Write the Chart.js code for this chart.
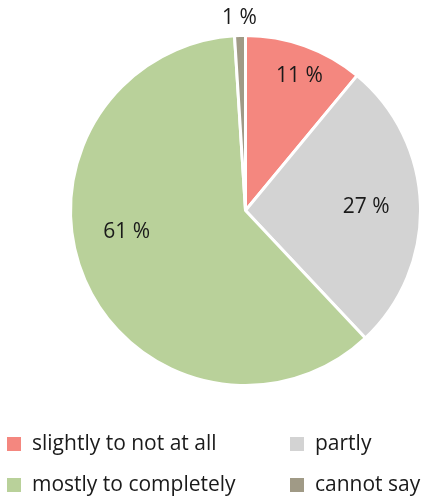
<!DOCTYPE html>
<html>
<head>
<meta charset="utf-8">
<script src="https://cdn.jsdelivr.net/npm/chart.js@4"></script>
<style>
  html, body { margin: 0; padding: 0; background: #fff; }
  #wrap { width: 422px; height: 496px; }
</style>
</head>
<body>
<div id="wrap"><canvas id="pieChart" width="422" height="496"></canvas></div>
<script>
// data
const categories = ['slightly to not at all', 'partly', 'mostly to completely', 'cannot say']
const shares = [11, 27, 61, 1]
const colours = ['#F4877F', '#D3D3D3', '#B9D19A', '#A09A86']

// where each percent label sits: fraction of the radius and small angle nudge (deg)
const labelRadius = [0.83, 0.69, 0.69, 1.1]
const labelNudge = [2, 0, 13, 0]

const FONT = '21px "Open Sans", Lato, sans-serif'

// percent labels on / next to the slices
const sliceLabels = {
    id: 'sliceLabels',
    afterDatasetsDraw(chart) {
        const ctx = chart.ctx
        const meta = chart.getDatasetMeta(0)
        ctx.save()
        ctx.font = FONT
        ctx.fillStyle = '#1a1a1a'
        ctx.textAlign = 'center'
        ctx.textBaseline = 'middle'
        meta.data.forEach(function (arc, i) {
            const p = arc.getProps(['x', 'y', 'startAngle', 'endAngle', 'outerRadius'], true)
            const mid = (p.startAngle + p.endAngle) / 2 + labelNudge[i] * Math.PI / 180
            const r = p.outerRadius * labelRadius[i]
            ctx.fillText(shares[i] + ' %', p.x + Math.cos(mid) * r, p.y + Math.sin(mid) * r)
        })
        ctx.restore()
    }
}

// two column legend under the pie
const legendGrid = {
    id: 'legendGrid',
    afterDraw(chart) {
        const ctx = chart.ctx
        const cols = [7, 290]
        const rows = [444, 485]
        ctx.save()
        ctx.font = FONT
        ctx.textBaseline = 'middle'
        ctx.textAlign = 'left'
        categories.forEach(function (name, i) {
            const x = cols[i % 2], y = rows[Math.floor(i / 2)]
            ctx.fillStyle = colours[i]
            ctx.fillRect(x, y - 7, 14, 14)
            ctx.fillStyle = '#1a1a1a'
            ctx.fillText(name, x + 25, y)
        })
        ctx.restore()
    }
}

const PIE = document.getElementById('pieChart')

new Chart(PIE, {
    type: 'pie',
    data: {
        labels: categories,
        datasets: [{
            data: shares,
            backgroundColor: colours,
            borderColor: '#ffffff',
            borderWidth: 3
        }]
    },
    options: {
        responsive: false,
        animation: false,
        layout: {
            padding: { left: 69, top: 33, right: 0, bottom: 108 }
        },
        plugins: {
            legend: { display: false },
            tooltip: { enabled: false }
        }
    },
    plugins: [sliceLabels, legendGrid]
})
</script>
</body>
</html>
